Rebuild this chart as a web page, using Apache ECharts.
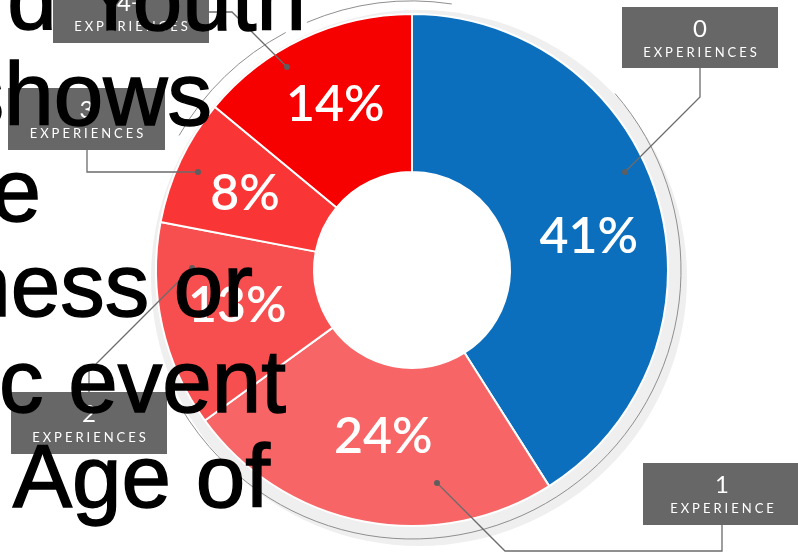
<!DOCTYPE html>
<html>
<head>
<meta charset="utf-8">
<script src="https://cdn.jsdelivr.net/npm/echarts@6/dist/echarts.min.js"></script>
<style>
  html, body { margin: 0; padding: 0; background: #fff; }
  #chart { width: 798px; height: 552px; }
</style>
</head>
<body>
<div id="chart"></div>
<script>
// ---- data ----
const categories = ['0', '1', '2', '3', '4+'];
const unitLabels = ['EXPERIENCES', 'EXPERIENCE', 'EXPERIENCES', 'EXPERIENCES', 'EXPERIENCES'];
const shares = [41, 24, 13, 8, 14];
const overlayLines = ['d Youth', 'shows', 'e', 'ness or', 'c event', 'Age of'];

// ---- styling / layout ----
const sliceColors = ['#0b6fbd', '#f76566', '#f74e4f', '#fa3536', '#f60000'];
const labelShift = [[4, 17], [5, -10], [1, -3], [-4, 1], [0, -2]];
const CX = 412, CY = 270, R_IN = 98, R_OUT = 256;

// letter-spaced caption text: draw glyph by glyph with 3px tracking
(function () {
  const proto = CanvasRenderingContext2D.prototype;
  const orig = proto.fillText;
  const TRACK = 3;
  proto.fillText = function (t, x, y, m) {
    if (typeof t === 'string' && /^EXPERIENCE/.test(t)) {
      const chars = Array.from(t);
      const widths = chars.map(c => this.measureText(c).width);
      const total = widths.reduce((a, b) => a + b, 0) + TRACK * (chars.length - 1);
      const align = this.textAlign;
      let sx = x;
      if (align === 'center') sx = x - total / 2;
      else if (align === 'right' || align === 'end') sx = x - total;
      this.textAlign = 'left';
      chars.forEach((c, i) => { orig.call(this, c, sx, y); sx += widths[i] + TRACK; });
      this.textAlign = align;
      return;
    }
    return m === undefined ? orig.call(this, t, x, y) : orig.call(this, t, x, y, m);
  };
})();

const chart = echarts.init(document.getElementById('chart'), null, { renderer: 'canvas' });

const deg = d => (d - 90) * Math.PI / 180;

// annotation boxes: [x, y, w, h]
const boxes = [
  [622, 7, 156, 61],
  [643, 463, 158, 62],
  [11, 392, 156, 62],
  [8, 88, 157, 62],
  [53, -19, 156, 62]
];
// leader lines (annotation layout)
const leaders = [
  [[700, 68], [700, 97], [625, 172]],
  [[722, 525], [722, 551], [505, 551], [437, 483]],
  [[89, 392], [89, 371], [192, 268]],
  [[87, 150], [87, 172], [198, 172]],
  [[208, 12], [232, 12], [287, 67]]
];

const graphics = [];
// soft shadow band behind the ring
graphics.push({ type: 'ring', z: 0, silent: true, shape: { cx: CX + 7, cy: CY + 8, r: 268, r0: 180 }, style: { fill: '#efefef' } });
// thin decorative arcs
[[300, 332], [337, 368.5], [49, 243]].forEach(a => {
  graphics.push({
    type: 'arc', z: 1, silent: true,
    shape: { cx: CX, cy: CY, r: 269, startAngle: deg(a[0]), endAngle: deg(a[1]), clockwise: true },
    style: { stroke: '#8f8f8f', lineWidth: 1, fill: null }
  });
});
// leader lines + dots
leaders.forEach(pts => {
  graphics.push({ type: 'polyline', z: 10, silent: true, shape: { points: pts }, style: { stroke: '#6b6b6b', lineWidth: 1.3, fill: null } });
  const end = pts[pts.length - 1];
  graphics.push({ type: 'circle', z: 11, silent: true, shape: { cx: end[0], cy: end[1], r: 3 }, style: { fill: '#5e5e5e' } });
});
// label boxes
categories.forEach((c, i) => {
  const b = boxes[i];
  const mx = b[0] + b[2] / 2;
  graphics.push({ type: 'rect', z: 12, silent: true, shape: { x: b[0], y: b[1], width: b[2], height: b[3] }, style: { fill: '#676767' } });
  graphics.push({
    type: 'text', z: 13, silent: true, x: mx, y: b[1] + 22,
    style: { text: c, fill: '#ffffff', font: '24px Lato', align: 'center', verticalAlign: 'middle' }
  });
  graphics.push({
    type: 'text', z: 13, silent: true, x: mx, y: b[1] + 46,
    style: { text: unitLabels[i], fill: '#ffffff', font: '13px Lato', align: 'center', verticalAlign: 'middle' }
  });
});
// overlaid black text lines (right edges / baselines)
const lineRight = [306, 212, 41, 253, 286, 270];
const lineBase = [33, 128, 224, 319, 415, 510];
overlayLines.forEach((t, i) => {
  graphics.push({
    type: 'text', z: 30, silent: true, x: lineRight[i], y: lineBase[i] - 28,
    style: { text: t, fill: '#000000', stroke: '#000000', lineWidth: 1.4, font: '89px "Liberation Sans"', align: 'right', verticalAlign: 'middle' }
  });
});

chart.setOption({
  animation: false,
  backgroundColor: '#ffffff',
  graphic: { elements: graphics },
  series: [{
    type: 'pie',
    z: 5,
    silent: true,
    center: [CX, CY],
    radius: [R_IN, R_OUT],
    startAngle: 90,
    clockwise: true,
    itemStyle: { borderColor: '#ffffff', borderWidth: 2 },
    label: {
      show: true,
      position: 'inside',
      formatter: p => p.value + '%',
      color: '#ffffff',
      fontFamily: 'Lato',
      fontSize: 50,
      fontWeight: 600
    },
    labelLine: { show: false },
    labelLayout: p => ({ dx: labelShift[p.dataIndex][0], dy: labelShift[p.dataIndex][1] }),
    data: shares.map((v, i) => ({
      name: categories[i] + ' ' + unitLabels[i],
      value: v,
      itemStyle: { color: sliceColors[i] }
    }))
  }]
});
</script>
</body>
</html>
